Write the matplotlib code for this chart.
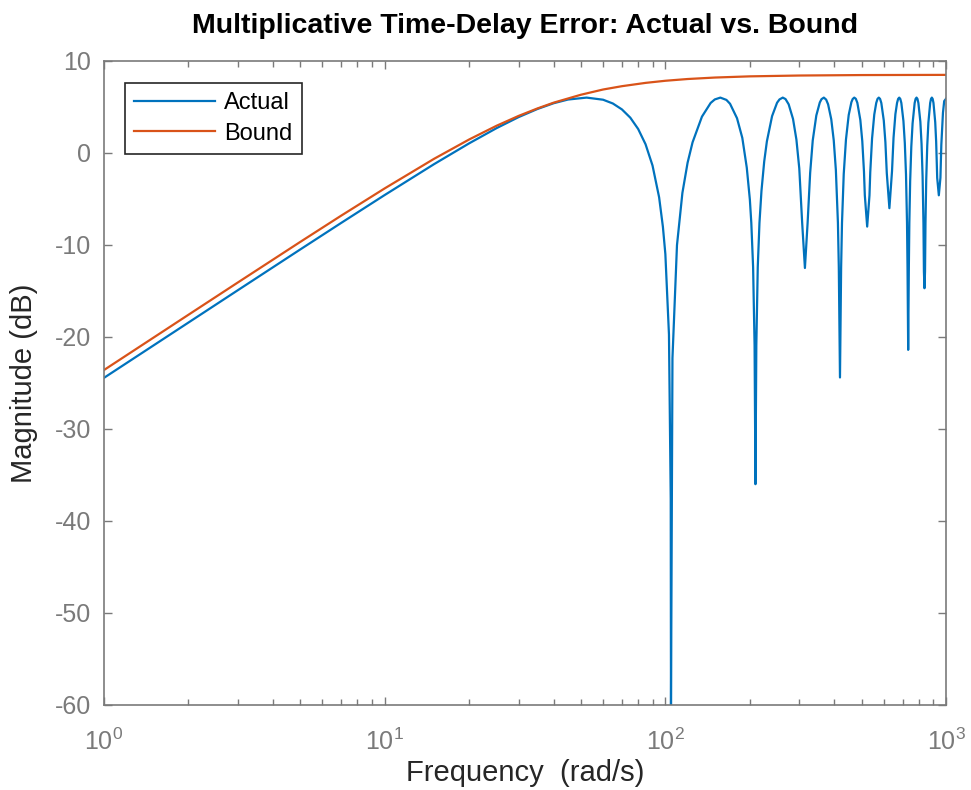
import matplotlib.pyplot as plt
from matplotlib.ticker import LogLocator, NullFormatter

# Data
freq_actual = [1, 2, 3, 5, 7, 10, 15, 20, 25, 30, 35, 40, 45, 52.4, 60, 65, 70, 75, 80, 85, 90, 95, 98,
               100, 103, 104.5, 104.72, 106, 110, 115, 120, 125, 135, 145, 150, 157, 165, 170, 180, 188, 195, 200,
               202.4, 205.4, 207.9, 209.4, 210.9, 213.4, 216.4, 220, 225, 230, 240, 250, 255, 262, 268, 275, 285, 293, 300,
               307.2, 314.2, 321.2, 328, 335, 345, 355, 360, 367, 374, 380, 390, 398, 405,
               411.9, 414.9, 418.9, 422.9, 425.9, 432, 440, 450, 460, 465, 471, 477, 483, 495, 503, 510,
               513.6, 523.6, 533.6, 537, 545, 555, 564, 570, 576, 582, 588, 600, 608, 615,
               628.3, 642, 650, 660, 669, 675, 681, 687, 693, 705, 713, 720,
               726, 729, 733, 737, 740, 745, 752, 760, 773, 779, 785, 791, 797, 810, 818, 825,
               830.8, 834, 837.8, 841.6, 844.8, 850, 857, 865, 878, 884, 890, 896, 902, 915, 922, 930,
               942.5, 955, 962, 975, 985, 1000]
mag_actual = [-24.44, -18.42, -14.91, -10.49, -7.60, -4.57, -1.21, 1.05, 2.69, 3.90, 4.78, 5.41, 5.81, 6.02, 5.79, 5.38, 4.74, 3.84, 2.61, 0.95, -1.36, -4.81, -8.02,
              -10.99, -19.73, -37.6, -60.0, -22.3, -10.02, -4.34, -1.06, 1.16, 3.95, 5.44, 5.82, 6.02, 5.77, 5.35, 3.78, 1.64, -1.59, -5.06,
              -7.6, -12.4, -20.9, -36.0, -20.9, -12.4, -7.6, -4.11, -0.92, 1.27, 4.01, 5.46, 5.82, 6.02, 5.86, 5.29, 3.7, 1.46, -1.68,
              -7.6, -12.5, -7.6, -2.16, 1.36, 4.08, 5.49, 5.85, 6.02, 5.80, 5.29, 3.66, 1.38, -1.85,
              -7.6, -12.4, -24.4, -12.4, -7.6, -2.29, 1.46, 4.13, 5.52, 5.87, 6.02, 5.89, 5.46, 3.59, 1.29, -2.0,
              -4.6, -8.0, -4.6, -2.1, 1.57, 4.18, 5.44, 5.88, 6.02, 5.88, 5.44, 3.53, 1.18, -2.18,
              -6.0, -1.96, 1.66, 4.22, 5.44, 5.88, 6.02, 5.88, 5.44, 3.47, 1.08, -2.34,
              -7.6, -12.4, -21.4, -12.4, -7.6, -3.05, 0.68, 3.22, 5.44, 5.88, 6.02, 5.88, 5.44, 3.40, 0.97, -2.53,
              -7.6, -12.9, -14.7, -12.9, -7.6, -2.88, 0.76, 3.28, 5.44, 5.88, 6.02, 5.88, 5.44, 3.35, 1.26, -2.71,
              -4.6, -2.69, 0.89, 4.37, 5.64, 5.9]

freq_bound = [1, 2, 3, 5, 7, 10, 15, 20, 25, 30, 35, 40, 50, 60, 70, 85, 100, 120, 150, 200, 300, 500, 1000]
mag_bound = [-23.59, -17.58, -14.07, -9.67, -6.81, -3.85, -0.63, 1.47, 2.95, 4.03, 4.84, 5.47, 6.33,
             6.90, 7.26, 7.62, 7.85, 8.04, 8.20, 8.33, 8.42, 8.47, 8.49]

plt.rcParams['font.family'] = ['Liberation Sans', 'DejaVu Sans']
plt.rcParams['mathtext.fontset'] = 'custom'
plt.rcParams['mathtext.rm'] = 'Liberation Sans'
plt.rcParams['mathtext.it'] = 'Liberation Sans'
plt.rcParams['axes.unicode_minus'] = False

tick_gray = '#7a7a7a'

fig = plt.figure(figsize=(9.71, 7.9), dpi=100)
ax = fig.add_axes([0.1071, 0.1076, 0.8672, 0.8152])

ax.semilogx(freq_actual, mag_actual, color='#0072BD', lw=1.6, label='Actual')
ax.semilogx(freq_bound, mag_bound, color='#D95319', lw=1.6, label='Bound')

ax.set_xlim(1, 1000)
ax.set_ylim(-60, 10)
ax.set_yticks(range(-60, 11, 10))
ax.xaxis.set_minor_locator(LogLocator(base=10, subs=range(2, 10)))
ax.xaxis.set_minor_formatter(NullFormatter())

ax.tick_params(which='both', direction='in', top=True, right=True,
               colors=tick_gray, labelsize=18)
ax.tick_params(axis='y', pad=9)
ax.tick_params(axis='x', pad=17)
ax.tick_params(which='major', length=6, width=1)
ax.tick_params(which='minor', length=4, width=1)
for s in ax.spines.values():
    s.set_color(tick_gray)
    s.set_linewidth(1.2)

ax.set_xlabel('Frequency  (rad/s)', fontsize=21, color='#262626', labelpad=3)
ax.set_ylabel('Magnitude (dB)', fontsize=21, color='#262626', labelpad=12)
ax.set_title('Multiplicative Time-Delay Error: Actual vs. Bound', fontsize=20.5,
             fontweight='bold', color='black', pad=20)

leg = ax.legend(loc='upper left', bbox_to_anchor=(0.025, 0.966), borderaxespad=0,
                fontsize=17, fancybox=False, framealpha=1, edgecolor='#262626',
                handlelength=3.4, handletextpad=0.4, borderpad=0.4, labelspacing=0.35)
leg.get_frame().set_linewidth(1.2)

fig.savefig('out.png', dpi=100)
